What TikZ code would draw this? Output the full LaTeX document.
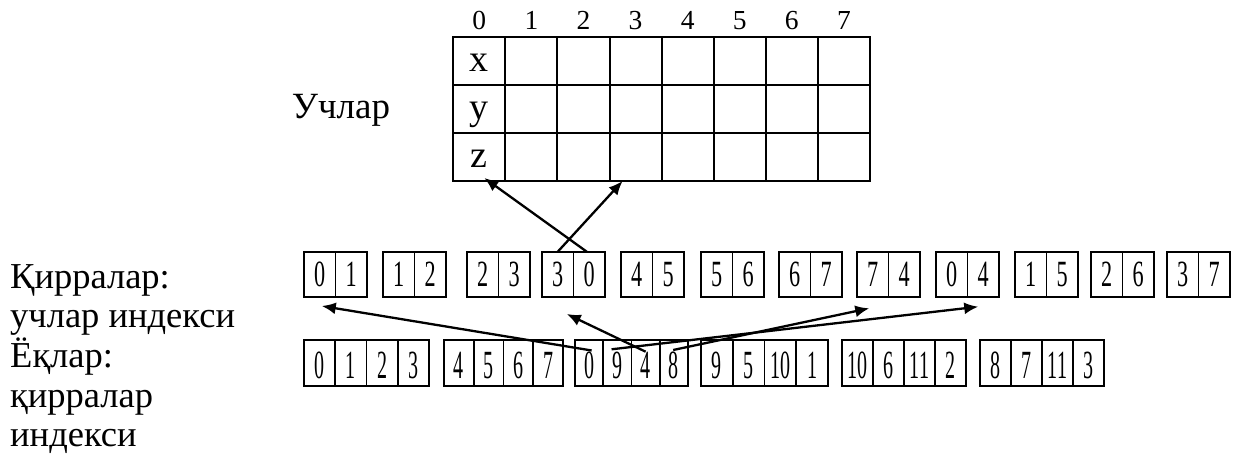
\documentclass[tikz,border=0pt]{standalone}
\usepackage{fontspec}
\setmainfont{Liberation Serif}
\usepackage{graphicx}
\usetikzlibrary{arrows.meta}
\tikzset{
	vcell/.style={draw, line width=2pt, minimum width=52.08pt, minimum height=48.1pt,
			inner sep=0pt, outer sep=0pt, font=\fontsize{38}{40}\selectfont,
			text height=21pt, text depth=0pt},
	ecell/.style={draw, line width=1.7pt, minimum width=31.5pt, minimum height=45.3pt,
			inner sep=0pt, outer sep=0pt, font=\fontsize{37}{40}\selectfont,
			text height=25pt, text depth=0pt},
	fcell/.style={draw, line width=1.7pt, minimum height=45.7pt,
			inner sep=0pt, outer sep=0pt, font=\fontsize{40}{42}\selectfont,
			text height=31pt, text depth=0pt},
	link/.style={-{Latex[length=14pt,width=12pt]}, line width=2.3pt}
}
\newcommand{\ndig}[2]{\scalebox{#1}[1]{#2}}
\begin{document}
\begin{tikzpicture}[x=1pt,y=-1pt]

			\useasboundingbox (0,0) rectangle (1242,462);

			% vertex table
			\foreach \r/\t in {0/x,1/y,2/z} {
					\node[vcell] (\t0) at (479.35,{60.75+48.1*\r}) {\t};
					\foreach \c in {1,...,7}
					\node[vcell] (\t\c) at ({479.35+52.08*\c},{60.75+48.1*\r}) {};
				}
			\foreach \c in {0,...,7}
			\node[font=\fontsize{27.5}{30}\selectfont, anchor=base] (c\c) at ({479.35+52.08*\c},29.3) {\c};
			\node[font=\fontsize{37}{40}\selectfont, anchor=base west, inner sep=0pt] (vlabel) at (291.7,118.3) {Учлар};

			% edges
			\foreach \l/\p/\q [count=\k from 0] in {304/0/1, 383/1/2, 467/2/3, 542/3/0, 621/4/5, 701/5/6,
					779/6/7, 857/7/4, 936/0/4, 1015/1/5, 1091/2/6, 1167/3/7} {
					\node[ecell] (e\k a) at ({\l+15.75},274.35) {\ndig{0.6}{\p}};
					\node[ecell] (e\k b) at ({\l+47.25},274.35) {\ndig{0.6}{\q}};
				}

			% faces
			\foreach \l/\w/\p/\q/\s/\u [count=\k from 0] in {304/31.25/0/1/2/3, 444/29.75/4/5/6/7,
					575/28.25/0/9/4/8, 701/31.75/9/5/10/1, 842/31/10/6/11/2, 980/31/8/7/11/3} {
					\node[fcell, minimum width=\w pt] (f\k a) at ({\l+0.5*\w},362.85) {\ndig{0.5}{\p}};
					\node[fcell, minimum width=\w pt] (f\k b) at ({\l+1.5*\w},362.85) {\ndig{0.5}{\q}};
					\node[fcell, minimum width=\w pt] (f\k c) at ({\l+2.5*\w},362.85) {\ndig{0.5}{\s}};
					\node[fcell, minimum width=\w pt] (f\k d) at ({\l+3.5*\w},362.85) {\ndig{0.5}{\u}};
				}

			\node[font=\fontsize{36.5}{39.6}\selectfont, align=left, anchor=north west, inner sep=0pt] (labels) at (10,264.2)
			{Қирралар:\\учлар индекси\\Ёқлар:\\қирралар\\индекси};

			% links
			\draw[link] (e3a.north) -- ([xshift=-13pt]z3.south);
			\draw[link] ([xshift=-2.5pt]e3b.north) -- ([xshift=5pt,yshift=3pt]z0.south);
			\draw[link] ([xshift=2.5pt,yshift=-10.5pt]f2a.north) -- ([xshift=2pt,yshift=-9pt]e0a.south);
			\draw[link] ([xshift=-5.8pt,yshift=-9.3pt]f2b.north) -- ([xshift=-5pt,yshift=-9.7pt]e8b.south);
			\draw[link] ([yshift=-11.7pt]f2c.north) -- ([xshift=9pt,yshift=-17pt]e3a.south);
			\draw[link] ([xshift=-0.7pt,yshift=-10pt]f2d.north) -- ([xshift=-3.5pt,yshift=-11.3pt]e7a.south);

		\end{tikzpicture}
\end{document}
